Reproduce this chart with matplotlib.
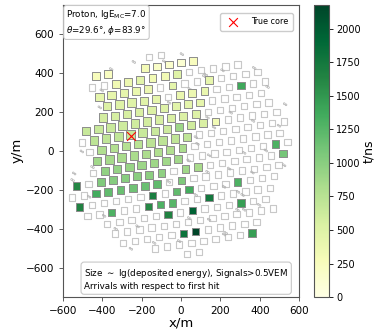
import numpy as np
import matplotlib
matplotlib.use("Agg")
import matplotlib.pyplot as plt

# Detector array: triangular lattice, ~62.5 m spacing, rotated by ~9 deg
SPACING = 62.5
ROT_DEG = 9.0
ORIGIN = (-330.0, 345.0)

# Lattice rows: (row, first column, site codes)
# F = hit (signal > 0.5 VEM), E = detector without signal, . = no detector
ROWS = [
    (-2, 2, "EE"),
    (-1, -2, "FF..FFFFF"),
    (0, -2, "EEFFFFFFEEEEE"),
    (1, -1, "FFFFFEFEEFEEEE"),
    (2, 0, "FFFFFEFFFEEFEE"),
    (3, 0, "FFFFFFFFFEEEEE"),
    (4, -1, "FFFFFFFFFFEEEEEE"),
    (5, -1, "EFFFFFFFFFFFEEEEE"),
    (6, 0, "EFFFFFFFFEEEEEEEE"),
    (7, 1, "FFFFFFFFEEEEEEEE"),
    (8, 1, "EFFFFFFFEEEEEEEFE"),
    (9, 0, "FEFFFFFFEFFEEEEEEF"),
    (10, 0, "EEFFFFFFEFEEEEEEEE"),
    (11, 1, "FEEEEEFEFFEEEFEEE"),
    (12, 2, "EEFEEFFFEEFEEEEE"),
    (13, 4, "EEEEEFEFEEEFEE"),
    (14, 5, "EEEEEEEEEEEEEE"),
    (15, 6, "EEEEEFFEEEEE"),
    (16, 9, "EEEEEEEEF"),
    (17, 12, "EE"),
]

# arrival times (ns) of the hit detectors, per row, left to right
HIT_T = {
    -1: [260, 220, 300, 190, 160, 120, 240],
    0: [340, 370, 460, 330, 320, 480],
    1: [440, 420, 430, 400, 380, 440, 420],
    2: [520, 500, 490, 470, 440, 400, 360, 400, 1380],
    3: [580, 570, 560, 540, 520, 500, 470, 440, 430],
    4: [660, 650, 640, 620, 600, 580, 560, 540, 520, 500],
    5: [720, 700, 690, 670, 650, 640, 620, 900, 600, 540, 330],
    6: [800, 780, 760, 740, 730, 720, 700, 700],
    7: [880, 860, 840, 830, 810, 800, 790, 820],
    8: [960, 940, 920, 900, 890, 880, 870, 1300],
    9: [1620, 1040, 1020, 1000, 990, 980, 970, 880, 840, 1100],
    10: [1350, 1200, 1150, 1130, 1150, 1200, 1050],
    11: [1650, 1700, 1200, 1350, 1300],
    12: [1300, 1600, 1300, 1250, 1750],
    13: [1650, 1950, 1450],
    15: [1800, 2180],
    16: [1450],
}

# lg(deposited energy) of the hit detectors, same order
HIT_LGE = {
    -1: [2.25, 2.25, 2.2, 2.2, 2.2, 2.15, 2.2],
    0: [2.3, 2.3, 2.3, 2.25, 2.25, 2.2],
    1: [2.3, 2.35, 2.35, 2.3, 2.3, 2.2, 2.15],
    2: [2.35, 2.35, 2.35, 2.3, 2.3, 2.25, 2.2, 2.2, 2.1],
    3: [2.4, 2.4, 2.4, 2.35, 2.35, 2.3, 2.3, 2.25, 2.2],
    4: [2.35, 2.4, 2.45, 2.45, 2.4, 2.4, 2.35, 2.3, 2.25, 2.2],
    5: [2.4, 2.45, 2.5, 2.5, 2.45, 2.4, 2.35, 2.1, 2.25, 2.2, 2.15],
    6: [2.4, 2.45, 2.45, 2.4, 2.4, 2.35, 2.3, 2.25],
    7: [2.35, 2.4, 2.4, 2.35, 2.35, 2.3, 2.25, 2.2],
    8: [2.3, 2.35, 2.35, 2.3, 2.3, 2.25, 2.2, 2.1],
    9: [2.05, 2.25, 2.3, 2.3, 2.25, 2.25, 2.2, 2.1, 2.1, 2.05],
    10: [2.1, 2.2, 2.2, 2.2, 2.15, 2.1, 2.05],
    11: [2.1, 2.05, 2.0, 2.05, 2.1],
    12: [2.1, 2.0, 2.05, 2.05, 2.0],
    13: [2.05, 2.0, 2.1],
    15: [2.0, 2.0],
    16: [2.2],
}

# small secondary detectors (gray circles), positions in m
MU_X = [0, -244, -359, -407, -417, 121, 206, 367, 435, 524, 40, 113, 130, 361,
        493, 71, 79, 138, 316, 426, 519, 34, 214, 130, 240, 358, 285, 214, 316,
        138, 71, 308, 392, 37, -14, -471, -395, -336, -225, -141, -259, -547,
        -508, -555, -454, -66, 163, 248, -65, -90, 223, 282]
MU_Y = [499, 459, 422, 313, 226, 394, 416, 428, 331, 242, 320, 386, 174, 157,
        132, 73, 39, -20, -7, 5, -71, -46, -181, -105, -88, -108, -207, -426,
        -299, -350, -223, -223, -274, -342, -460, -232, -330, -397, -384, -469,
        -499, -113, 0, -147, -80, -156, 123, 199, 250, 462, -418, -299]

CORE_X, CORE_Y = -255, 75

T_MAX = 2180
CBAR_TICKS = [0, 250, 500, 750, 1000, 1250, 1500, 1750, 2000]


def lattice_xy(i, j):
    """Position (m) of lattice site (column i, row j)."""
    th = np.radians(ROT_DEG)
    th2 = np.radians(ROT_DEG - 120.0)
    x = ORIGIN[0] + SPACING * (i * np.cos(th) + j * np.cos(th2))
    y = ORIGIN[1] + SPACING * (i * np.sin(th) + j * np.sin(th2))
    return x, y


empty_x, empty_y = [], []
hit_x, hit_y, hit_t, hit_lge = [], [], [], []
for row, first, codes in ROWS:
    k = 0
    for n, code in enumerate(codes):
        if code == ".":
            continue
        x, y = lattice_xy(first + n, row)
        if code == "E":
            empty_x.append(x)
            empty_y.append(y)
        else:
            hit_x.append(x)
            hit_y.append(y)
            hit_t.append(HIT_T[row][k])
            hit_lge.append(HIT_LGE[row][k])
            k += 1

hit_lge = np.array(hit_lge)

fig = plt.figure(figsize=(3.74, 3.29), dpi=100)
ax = fig.add_axes([0.168, 0.097, 0.632, 0.889])
cax = fig.add_axes([0.840, 0.097, 0.040, 0.889])

ax.scatter(empty_x, empty_y, s=21, marker="s", facecolors="none",
           edgecolors="#c8c8c8", linewidths=0.8, zorder=2)
ax.scatter(MU_X, MU_Y, s=1.6, marker="o", facecolors="none",
           edgecolors="#b0b0b0", linewidths=0.5, zorder=2)
ax.scatter(np.array(MU_X) + 9, np.array(MU_Y) - 6, s=1.6, marker="o",
           facecolors="none", edgecolors="#b0b0b0", linewidths=0.5, zorder=2)
sc = ax.scatter(hit_x, hit_y, c=hit_t, cmap="YlGn", vmin=0, vmax=T_MAX,
                s=(2.55 * hit_lge) ** 2, marker="s", edgecolors="#8c8c8c",
                linewidths=0.7, zorder=3)
ax.scatter([CORE_X], [CORE_Y], marker="x", c="red", s=40, linewidths=0.8,
           label="True core", zorder=5)

ax.set_xlim(-600, 600)
ax.set_ylim(-750, 750)
ax.set_xticks([-600, -400, -200, 0, 200, 400, 600])
ax.set_yticks([-600, -400, -200, 0, 200, 400, 600])
ax.tick_params(labelsize=7.5, length=3, width=0.6, color="#444444")
for sp in ax.spines.values():
    sp.set_color("#555555")
    sp.set_linewidth(0.8)
ax.set_xlabel("x/m", fontsize=9.5, labelpad=0.5)
ax.set_ylabel("y/m", fontsize=9.5)
ax.yaxis.set_label_coords(-0.168, 0.5)

ax.legend(loc="upper right", fontsize=5.8, handletextpad=1.3,
          borderpad=0.55, framealpha=1, edgecolor="#cccccc",
          bbox_to_anchor=(0.99, 0.985))

ax.text(0.015, 0.988, "Proton, lgE$_{\\mathrm{MC}}$=7.0\n"
        "$\\theta$=29.6°, $\\phi$=83.9°",
        transform=ax.transAxes, ha="left", va="top", fontsize=6.3,
        linespacing=1.3,
        bbox=dict(boxstyle="round,pad=0.3", fc="white", ec="#c8c8c8", lw=0.8))
ax.text(0.09, 0.02, "Size $\\sim$ lg(deposited energy), Signals>0.5VEM\n"
        "Arrivals with respect to first hit",
        transform=ax.transAxes, ha="left", va="bottom", fontsize=6.3,
        linespacing=1.3,
        bbox=dict(boxstyle="round,pad=0.35", fc="white", ec="#c8c8c8", lw=0.8))

cb = fig.colorbar(sc, cax=cax, ticks=CBAR_TICKS)
cb.ax.tick_params(labelsize=7, length=3, width=0.6, pad=2)
cb.outline.set_linewidth(0.8)
cb.outline.set_edgecolor("#555555")
cb.set_label("t/ns", fontsize=9, labelpad=1)

fig.savefig("out.png", dpi=100)
